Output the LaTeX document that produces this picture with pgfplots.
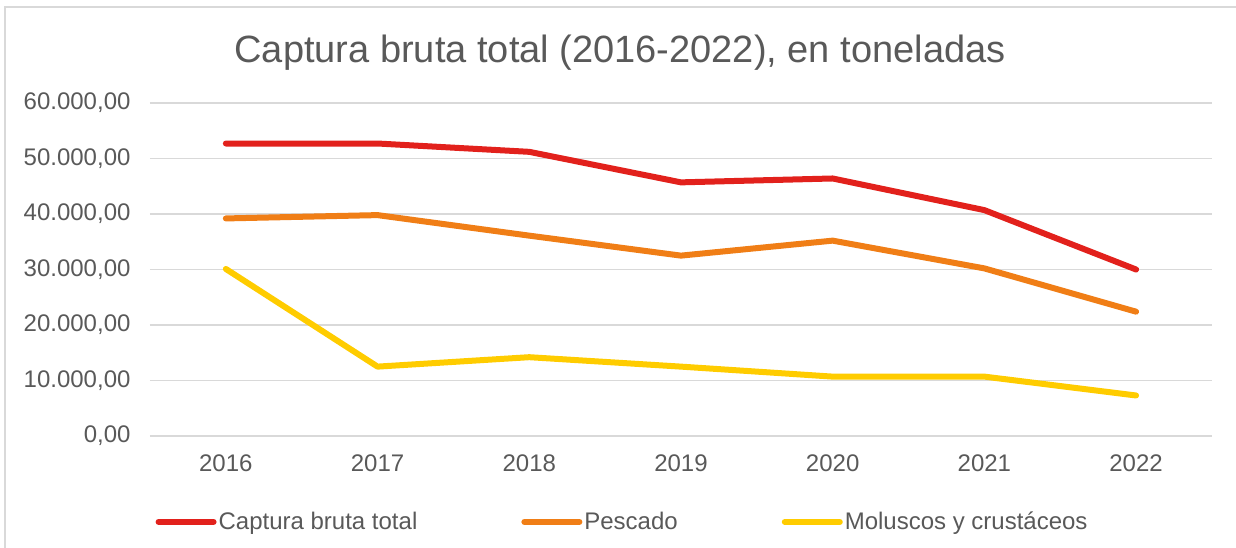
\documentclass[border=0pt]{standalone}
\usepackage{pgfplots}
\pgfplotsset{compat=1.18}
\usepackage{fontspec}
\setmainfont{Liberation Sans}
\definecolor{txt}{HTML}{595959}
\definecolor{gridc}{HTML}{D9D9D9}
\definecolor{cred}{HTML}{E2211C}
\definecolor{corange}{HTML}{F07E16}
\definecolor{cyellow}{HTML}{FFCC00}
\begin{document}
\begin{tikzpicture}[x=1pt,y=1pt]
\begin{axis}[
  scale only axis, width=1062pt, height=333pt,
  xmin=-0.5, xmax=6.5, ymin=0, ymax=60000,
  xtick={0,...,6},
  xticklabels={2016,2017,2018,2019,2020,2021,2022},
  ytick={0,10000,...,60000},
  scaled y ticks=false,
  /pgf/number format/fixed,
  /pgf/number format/fixed zerofill,
  /pgf/number format/precision=2,
  /pgf/number format/use comma,
  /pgf/number format/1000 sep={.},
  /pgf/number format/assume math mode=true,
  ticklabel style={font=\fontsize{24}{28}\selectfont, text=txt},
  yticklabel style={xshift=-16pt},
  xticklabel style={yshift=-15pt},
  axis line style={draw=none},
  major tick length=0pt,
  ymajorgrids, grid style={gridc, line width=1.5pt},
  legend columns=3,
  legend style={at={(0.445,-0.258)}, anchor=center, draw=none, fill=none,
    font=\fontsize{24}{28}\selectfont, text=txt,
    /tikz/every even column/.append style={column sep=102pt},
    inner sep=0pt},
  legend image code/.code={\draw[#1, line width=6pt, line cap=round] (0pt,0pt) -- (55pt,0pt);},
  every axis plot/.append style={line width=6pt, line cap=round, line join=round, mark=none},
  clip=false,
]
\addplot[cred] coordinates {(0,52700) (1,52700) (2,51200) (3,45700) (4,46400) (5,40700) (6,30000)};
\addlegendentry{Captura bruta total}
\addplot[corange] coordinates {(0,39200) (1,39800) (2,36100) (3,32500) (4,35200) (5,30200) (6,22400)};
\addlegendentry{Pescado}
\addplot[cyellow] coordinates {(0,30100) (1,12500) (2,14200) (3,12500) (4,10700) (5,10700) (6,7300)};
\addlegendentry{Moluscos y crustáceos}
\coordinate (O) at (rel axis cs:0,0);
\end{axis}
\pgfresetboundingbox
\begin{scope}[shift={(O)}]
\begin{scope}[shift={(-150,-112)}]
\useasboundingbox (0,0) rectangle (1236,548);
\draw[gridc, line width=1.5pt] (5,-10) -- (5,541) -- (1250,541);
\node[txt, font=\fontsize{38}{46}\selectfont, anchor=base] at (620,485) {Captura bruta total (2016-2022), en toneladas};
\end{scope}
\end{scope}
\end{tikzpicture}
\end{document}
